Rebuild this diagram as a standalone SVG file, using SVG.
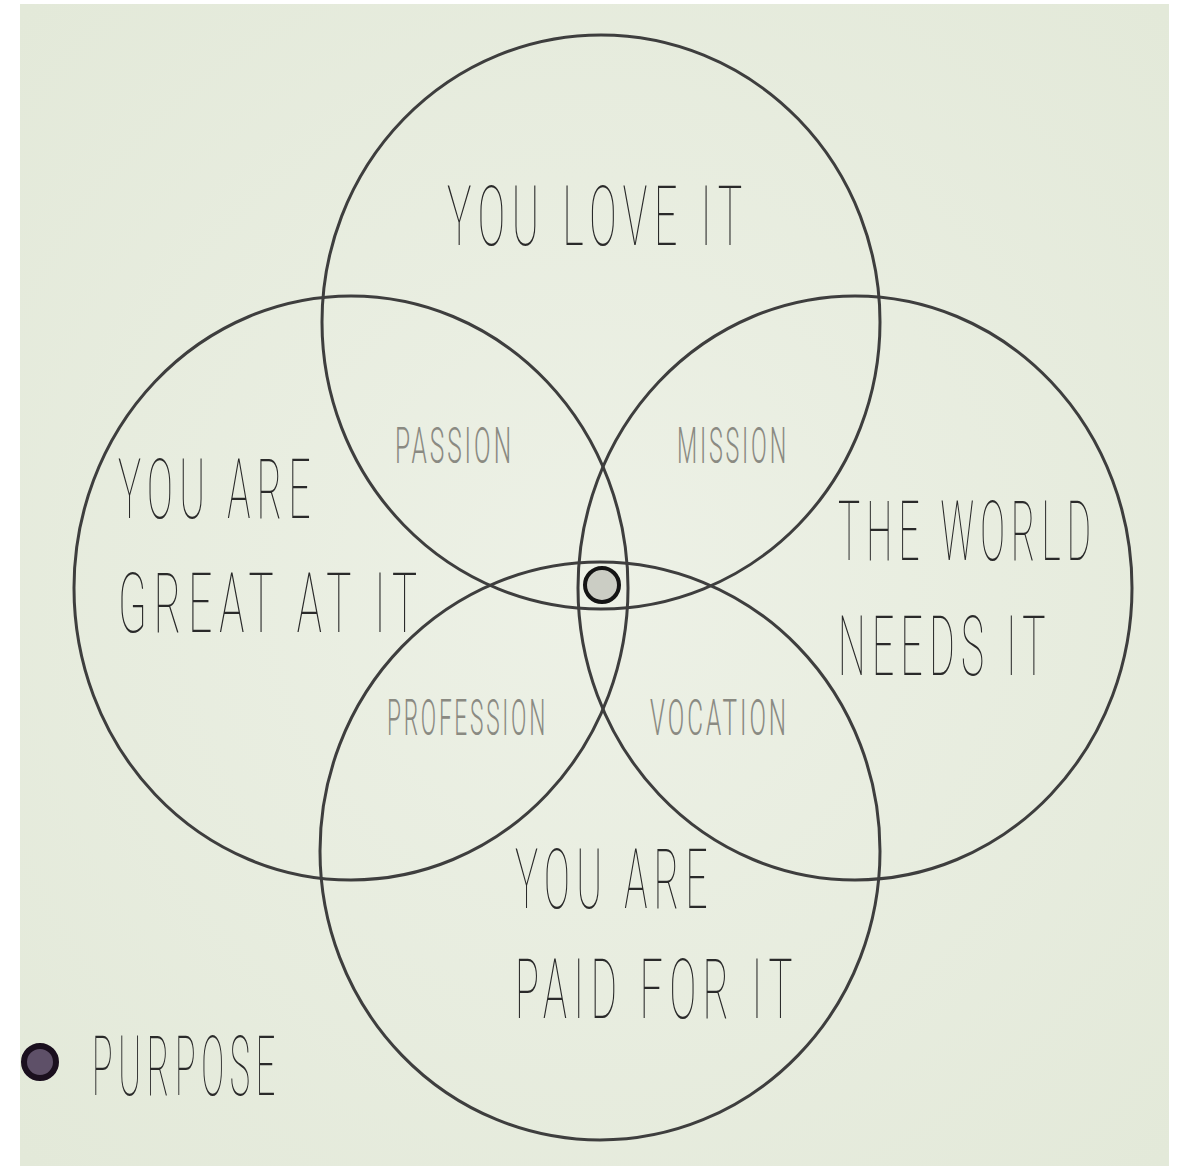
<svg xmlns="http://www.w3.org/2000/svg" width="1179" height="1170" viewBox="0 0 1179 1170">
<defs>
<radialGradient id="bg" cx="0.5" cy="0.5" r="0.7">
<stop offset="0" stop-color="#edf1e6"/>
<stop offset="1" stop-color="#e3e9d9"/>
</radialGradient>
<style>
.ring{fill:none;stroke:#3e3e3e;stroke-width:3}
.big{font-family:Roboto,Inter,"Liberation Sans",sans-serif;font-weight:100;fill:#2a2a2a;font-size:84px;letter-spacing:14px}
.small{font-family:Roboto,Inter,"Liberation Sans",sans-serif;font-weight:300;fill:#8a8a82;font-size:50px;letter-spacing:6px}
</style>
</defs>
<rect width="1179" height="1170" fill="#ffffff"/>
<rect x="20" y="4" width="1149" height="1162" fill="url(#bg)"/>
<g id="connectors"></g>
<g id="love">
<ellipse class="ring" cx="601" cy="322" rx="279" ry="287"/>
<text class="big" x="447" y="245" textLength="302" lengthAdjust="spacingAndGlyphs">YOU LOVE IT</text>
</g>
<g id="great">
<ellipse class="ring" cx="351" cy="588" rx="277" ry="292"/>
<text class="big" x="118" y="518" textLength="199" lengthAdjust="spacingAndGlyphs">YOU ARE</text>
<text class="big" x="118" y="632" textLength="306" lengthAdjust="spacingAndGlyphs">GREAT AT IT</text>
</g>
<g id="world">
<ellipse class="ring" cx="855" cy="588" rx="277" ry="292"/>
<text class="big" x="838" y="560" textLength="259" lengthAdjust="spacingAndGlyphs">THE WORLD</text>
<text class="big" x="838" y="675" textLength="214" lengthAdjust="spacingAndGlyphs">NEEDS IT</text>
</g>
<g id="paid">
<ellipse class="ring" cx="600" cy="851" rx="280" ry="289"/>
<text class="big" x="515" y="908" textLength="199" lengthAdjust="spacingAndGlyphs">YOU ARE</text>
<text class="big" x="515" y="1018" textLength="284" lengthAdjust="spacingAndGlyphs">PAID FOR IT</text>
</g>
<g id="passion"><text class="small" x="395" y="463" textLength="119" lengthAdjust="spacingAndGlyphs">PASSION</text></g>
<g id="mission"><text class="small" x="677" y="463" textLength="112" lengthAdjust="spacingAndGlyphs">MISSION</text></g>
<g id="profession"><text class="small" x="387" y="735" textLength="161" lengthAdjust="spacingAndGlyphs">PROFESSION</text></g>
<g id="vocation"><text class="small" x="650" y="735" textLength="139" lengthAdjust="spacingAndGlyphs">VOCATION</text></g>
<g id="center-dot"><circle cx="602" cy="585" r="17" fill="#cbcdc4" stroke="#141414" stroke-width="4"/></g>
<g id="purpose">
<circle cx="40" cy="1062" r="16" fill="#5e5068" stroke="#1a0f1e" stroke-width="6"/>
<text class="big" x="92" y="1095" textLength="189" lengthAdjust="spacingAndGlyphs">PURPOSE</text>
</g>
</svg>
